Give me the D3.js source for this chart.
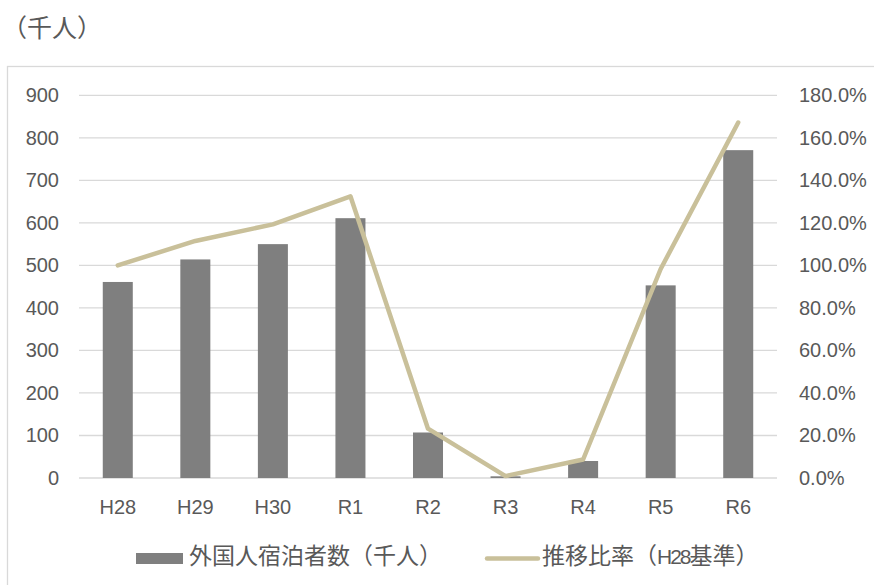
<!DOCTYPE html>
<html>
<head>
<meta charset="utf-8">
<script src="https://cdn.jsdelivr.net/npm/d3@7"></script>
<style>
  html, body { margin: 0; padding: 0; background: #ffffff; }
  svg { display: block; }
  text { fill: #595959; }
</style>
</head>
<body>
<svg id="chart" width="874" height="585"></svg>
<script>
// ---- data ----
const categories = ["H28", "H29", "H30", "R1", "R2", "R3", "R4", "R5", "R6"];
const guests = [461, 514, 550, 611, 107, 4, 40, 453, 771];          // 外国人宿泊者数（千人）
const ratio  = [1.000, 1.115, 1.193, 1.325, 0.232, 0.009, 0.087, 0.983, 1.672]; // 推移比率（H28基準）
const leftTicks  = [0, 100, 200, 300, 400, 500, 600, 700, 800, 900];
const rightTicks = [0, 0.2, 0.4, 0.6, 0.8, 1.0, 1.2, 1.4, 1.6, 1.8];
const unitLabel = "（千人）";
const seriesNames = ["外国人宿泊者数（千人）", "推移比率（H28基準）"];

// ---- layout ----
const svg = d3.select("#chart");
const plot = { left: 79, right: 777, top: 95.3, bottom: 478 };
const barColor = "#7f7f7f";
const lineColor = "#c9c09a";
const gridColor = "#d9d9d9";
const numFont = "'Liberation Sans', Arial, sans-serif";
const cjkFont = "'Noto Sans CJK JP', 'Liberation Sans', sans-serif";

// outer frame
svg.append("rect")
  .attr("x", 7.5).attr("y", 66.5)
  .attr("width", 900).attr("height", 600)
  .attr("fill", "none").attr("stroke", gridColor).attr("stroke-width", 1.3);

// unit label
svg.append("text")
  .attr("x", 2).attr("y", 30)
  .attr("dominant-baseline", "middle")
  .style("font-family", cjkFont).style("font-size", "25px")
  .text(unitLabel);

const x = d3.scaleBand()
  .domain(categories)
  .range([plot.left, plot.right])
  .paddingInner(0.613)
  .paddingOuter(0.3065);

const yL = d3.scaleLinear().domain([0, 900]).range([plot.bottom, plot.top]);
const yR = d3.scaleLinear().domain([0, 1.8]).range([plot.bottom, plot.top]);

// gridlines
svg.append("g").selectAll("line")
  .data(leftTicks)
  .join("line")
  .attr("x1", plot.left).attr("x2", plot.right)
  .attr("y1", d => yL(d)).attr("y2", d => yL(d))
  .attr("stroke", gridColor).attr("stroke-width", 1.3);

// left axis
const leftAxis = svg.append("g")
  .attr("transform", `translate(${plot.left - 20},0)`)
  .call(d3.axisLeft(yL).tickValues(leftTicks).tickSize(0).tickPadding(0).tickFormat(d3.format("d")));
leftAxis.select(".domain").remove();
leftAxis.selectAll("text")
  .style("font-family", numFont).style("font-size", "20px").attr("fill", "#595959");

// right axis
const rightAxis = svg.append("g")
  .attr("transform", `translate(${plot.right + 22},0)`)
  .call(d3.axisRight(yR).tickValues(rightTicks).tickSize(0).tickPadding(0).tickFormat(d3.format(".1%")));
rightAxis.select(".domain").remove();
rightAxis.selectAll("text")
  .style("font-family", numFont).style("font-size", "20px").attr("fill", "#595959");

// bottom axis
const bottomAxis = svg.append("g")
  .attr("transform", `translate(0,${plot.bottom})`)
  .call(d3.axisBottom(x).tickSize(0).tickPadding(22));
bottomAxis.select(".domain").remove();
bottomAxis.selectAll("text")
  .style("font-family", numFont).style("font-size", "20px").attr("fill", "#595959");

// bars
svg.append("g").selectAll("rect")
  .data(categories.map((c, i) => ({ c, v: guests[i] })))
  .join("rect")
  .attr("x", d => x(d.c))
  .attr("width", x.bandwidth())
  .attr("y", d => yL(d.v))
  .attr("height", d => yL(0) - yL(d.v))
  .attr("fill", barColor);

// line
const line = d3.line()
  .x(d => x(d.c) + x.bandwidth() / 2)
  .y(d => yR(d.v));
svg.append("path")
  .datum(categories.map((c, i) => ({ c, v: ratio[i] })))
  .attr("d", line)
  .attr("fill", "none")
  .attr("stroke", lineColor)
  .attr("stroke-width", 4.5)
  .attr("stroke-linejoin", "round")
  .attr("stroke-linecap", "round");

// legend
const lg = svg.append("g");
lg.append("rect").attr("x", 136).attr("y", 553).attr("width", 47).attr("height", 11).attr("fill", barColor);
lg.append("text").attr("x", 189).attr("y", 558).attr("dominant-baseline", "middle")
  .style("font-family", cjkFont).style("font-size", "23px").text(seriesNames[0]);
lg.append("line").attr("x1", 487).attr("x2", 538).attr("y1", 558.5).attr("y2", 558.5)
  .attr("stroke", lineColor).attr("stroke-width", 4.5).attr("stroke-linecap", "round");
const t2 = lg.append("text").attr("x", 542).attr("y", 558).attr("dominant-baseline", "middle")
  .style("font-family", cjkFont).style("font-size", "23px");
seriesNames[1].split(/(H28)/).forEach(part => {
  const ts = t2.append("tspan").text(part);
  if (part === "H28") {
    ts.style("font-family", numFont).style("font-size", "21px").style("letter-spacing", "-2px");
  }
});
</script>
</body>
</html>
